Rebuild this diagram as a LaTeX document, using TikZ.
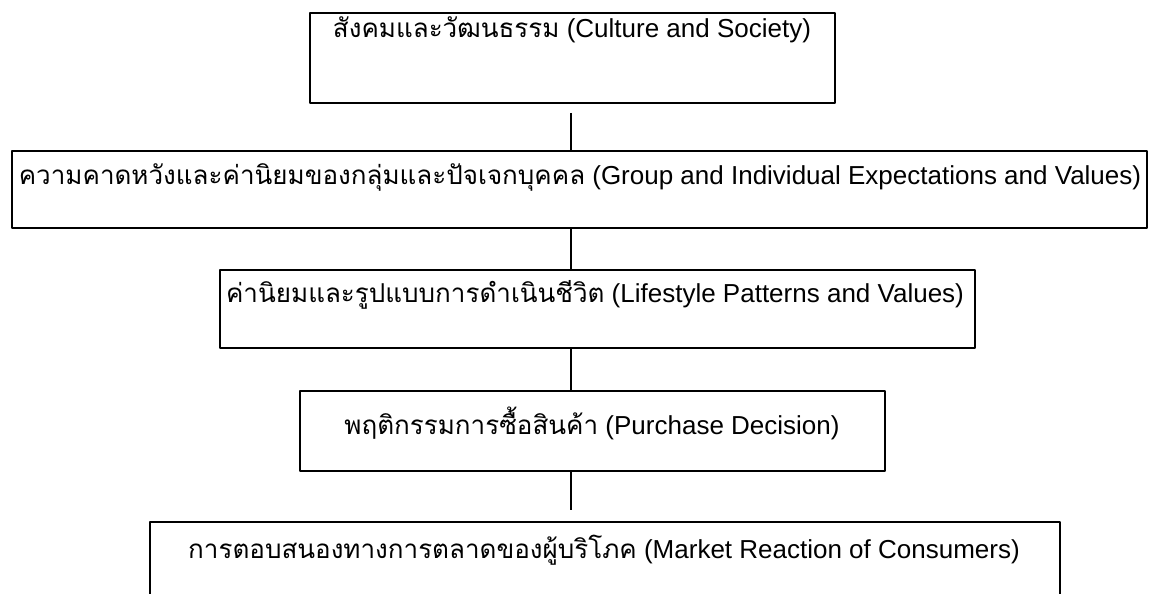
\documentclass[tikz,border=0pt]{standalone}
\usepackage{fontspec}
\setmainfont{Liberation Sans}
\newfontfamily\thaifont[Script=Thai]{Loma}
\usetikzlibrary{calc,positioning}

\begin{document}
\begin{tikzpicture}[x=0.02cm,y=-0.02cm,line join=round,
  box/.style={draw,line width=1.1pt,inner sep=0pt},
  lbl/.style={inner sep=0pt,font=\fontsize{14.8}{18}\selectfont},
  link/.style={line width=0.9pt}]
  \useasboundingbox (0,0) rectangle (1149,593);
  \clip (0,0) rectangle (1149,593);
  \coordinate (lx) at (571,0);
  % boxes
  \node[box,minimum width=10.5cm,minimum height=1.8cm] (b1) at (572.5,58) {};
  \node[box,minimum width=22.7cm,minimum height=1.54cm] (b2) at (579.5,189.5) {};
  \node[box,minimum width=15.1cm,minimum height=1.56cm] (b3) at (597.5,309) {};
  \node[box,minimum width=11.7cm,minimum height=1.6cm] (b4) at (592.5,431) {};
  \node[box,minimum width=18.2cm,minimum height=3.56cm] (b5) at (605,611) {};
  % texts
  \node[lbl] (t1) at (572,30) {{\thaifont สังคมและวัฒนธรรม} (Culture and Society)};
  \node[lbl] (t2) at (580,177) {{\thaifont ความคาดหวังและค่านิยมของกลุ่มและปัจเจกบุคคล} (Group and Individual Expectations and Values)};
  \node[lbl] (t3) at (595,295) {{\thaifont ค่านิยมและรูปแบบการดำเนินชีวิต} (Lifestyle Patterns and Values)};
  \node[lbl] (t4) at (592,423) {{\thaifont พฤติกรรมการซื้อสินค้า} (Purchase Decision)};
  \node[lbl] (t5) at (604,550) {{\thaifont การตอบสนองทางการตลาดของผู้บริโภค} (Market Reaction of Consumers)};
  % links
  \coordinate (c1) at ($(b1.south -| lx)+(0,9)$);
  \coordinate (c4) at ($(b5.north -| lx)+(0,-11)$);
  \draw[link] (c1) -- (b2.north -| lx);
  \draw[link] (b2.south -| lx) -- (b3.north -| lx);
  \draw[link] (b3.south -| lx) -- (b4.north -| lx);
  \draw[link] (b4.south -| lx) -- (c4);
\end{tikzpicture}
\end{document}
